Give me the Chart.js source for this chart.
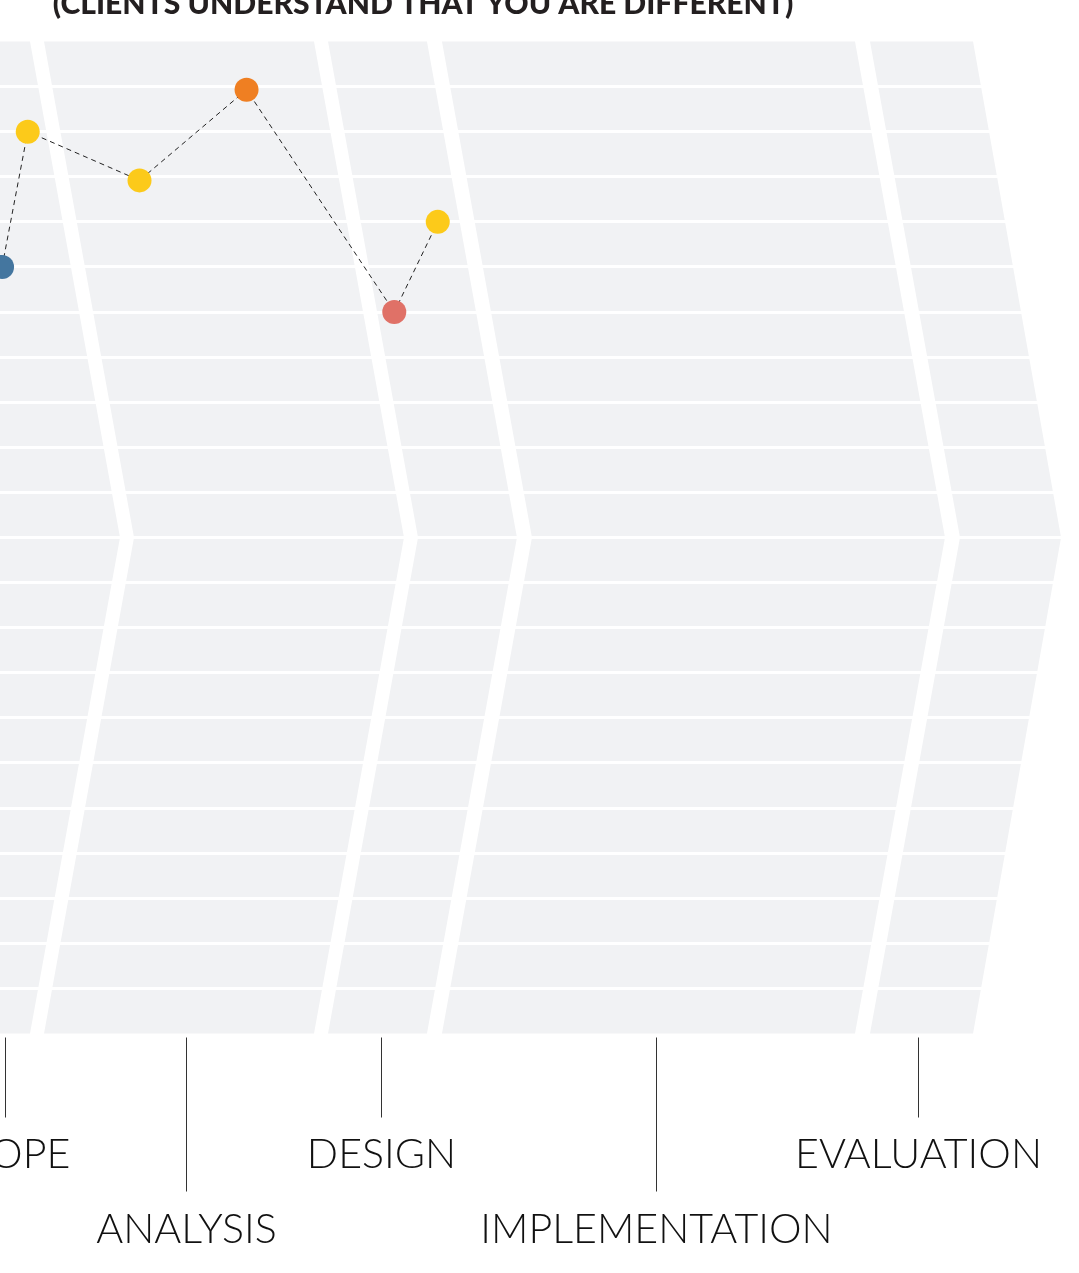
<!DOCTYPE html>
<html>
<head>
<meta charset="utf-8">
<script src="https://cdn.jsdelivr.net/npm/chart.js@4"></script>
<style>
  html, body { margin: 0; padding: 0; background: #fff; }
  #wrap { width: 1079px; height: 1273px; overflow: hidden; }
</style>
</head>
<body>
<div id="wrap"><canvas id="grafico" width="1079" height="1273"></canvas></div>
<script>
// dados (eixo x: 0-100 da linha do tempo, eixo y: 0-22 faixas)
const titulo = '(CLIENTS UNDERSTAND THAT YOU ARE DIFFERENT)';

const fases = ['SCOPE', 'ANALYSIS', 'DESIGN', 'IMPLEMENTATION', 'EVALUATION'];
const faseInicio = [-30, 4.08, 30.40, 40.96, 80.63];
const faseFim = [2.78, 29.10, 39.57, 79.24, 90.18];
const rotuloX = [0.42, 17.27, 35.33, 60.78, 85.06];
const rotuloNivel = [0, 1, 0, 1, 0];

const pontosX = [0.19, 2.57, 12.93, 22.85, 36.54, 40.57];
const pontosY = [17, 20, 18.92, 20.93, 16, 18];
const pontosCor = ['#44769f', '#fcca1a', '#fcca1a', '#ef7f22', '#e07167', '#fcca1a'];

const faixasMax = 22;

const CINZA = '#f1f2f4';
const PROFUNDIDADE = 90; // deslocamento da ponta da seta, px

const fundoSetas = {
  id: 'fundoSetas',
  beforeDraw(chart) {
    const { ctx, chartArea, scales } = chart;
    const topo = chartArea.top, base = chartArea.bottom;
    const meio = scales.y.getPixelForValue(faixasMax / 2);
    ctx.save();
    ctx.fillStyle = CINZA;
    fases.forEach((f, i) => {
      const esq = scales.x.getPixelForValue(faseInicio[i]);
      const dir = scales.x.getPixelForValue(faseFim[i]);
      const pontaDir = i === fases.length - 1 ? PROFUNDIDADE - 2 : PROFUNDIDADE;
      ctx.beginPath();
      ctx.moveTo(esq, topo);
      ctx.lineTo(dir, topo);
      ctx.lineTo(dir + pontaDir, meio);
      ctx.lineTo(dir, base);
      ctx.lineTo(esq, base);
      ctx.lineTo(esq + PROFUNDIDADE, meio);
      ctx.closePath();
      ctx.fill();
    });
    ctx.restore();
  }
};

function ajustaFonte(ctx, texto, peso, familia, larguraAlvo) {
  ctx.font = `${peso} 40px ${familia}`;
  const w = ctx.measureText(texto).width;
  return 40 * larguraAlvo / w;
}

const rotulos = {
  id: 'rotulos',
  afterDraw(chart) {
    const { ctx, chartArea, scales } = chart;
    const base = chartArea.bottom;
    ctx.save();

    // titulo (cortado no topo)
    const famTitulo = 'Lato, "Open Sans", sans-serif';
    const tamTitulo = ajustaFonte(ctx, titulo, 900, famTitulo, 741);
    ctx.font = `900 ${tamTitulo}px ${famTitulo}`;
    ctx.fillStyle = '#231f20';
    ctx.textAlign = 'center';
    ctx.textBaseline = 'alphabetic';
    ctx.fillText(titulo, 423, 14);

    // marcas e nomes das fases
    const famRot = 'Lato, "Open Sans", sans-serif';
    const tamRot = ajustaFonte(ctx, 'EVALUATION', 300, famRot, 247);
    ctx.font = `300 ${tamRot}px ${famRot}`;
    ctx.strokeStyle = '#333';
    ctx.lineWidth = 1;
    fases.forEach((f, i) => {
      const x = Math.round(scales.x.getPixelForValue(rotuloX[i])) + 0.5;
      const longo = rotuloNivel[i] === 1;
      ctx.beginPath();
      ctx.moveTo(x, base + 4);
      ctx.lineTo(x, base + (longo ? 158 : 84));
      ctx.stroke();
      ctx.fillStyle = '#111';
      ctx.fillText(f, x, base + (longo ? 209 : 134));
    });
    ctx.restore();
  }
};

new Chart(document.getElementById('grafico').getContext('2d'), {
  type: 'line',
  data: {
    datasets: [{
      data: pontosX.map((x, i) => ({ x, y: pontosY[i] })),
      borderColor: '#222',
      borderWidth: 1,
      borderDash: [5, 4],
      pointRadius: 12,
      pointHoverRadius: 12,
      pointBorderWidth: 0,
      pointBackgroundColor: pontosCor,
      tension: 0,
      fill: false,
      clip: false
    }]
  },
  options: {
    responsive: false,
    animation: false,
    devicePixelRatio: 1,
    layout: { autoPadding: false, padding: { top: 41.5, bottom: 239.5, left: 0, right: 0 } },
    plugins: {
      legend: { display: false },
      title: { display: false },
      tooltip: { enabled: false }
    },
    scales: {
      x: { type: 'linear', min: 0, max: 100, display: false },
      y: {
        min: 0,
        max: faixasMax,
        afterFit: s => { s.width = 0; },
        ticks: { display: false, stepSize: 1, padding: 0 },
        border: { display: false },
        grid: {
          drawTicks: false,
          lineWidth: 3,
          color: c => (c.tick.value === 0 || c.tick.value === faixasMax) ? 'rgba(0,0,0,0)' : '#ffffff'
        }
      }
    }
  },
  plugins: [fundoSetas, rotulos]
});
</script>
</body>
</html>
